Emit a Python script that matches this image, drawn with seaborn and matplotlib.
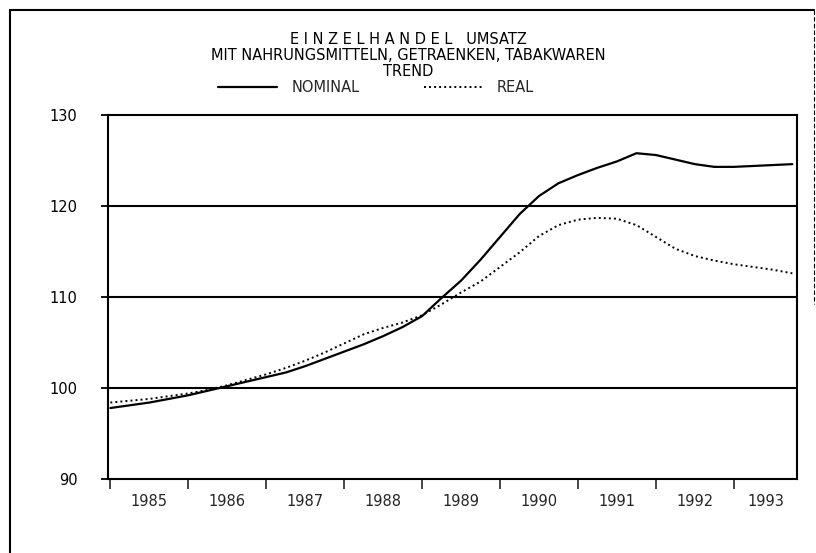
import numpy as np
import pandas as pd
import matplotlib
matplotlib.use("Agg")
import matplotlib.pyplot as plt
import seaborn as sns
from matplotlib.lines import Line2D

# ---- data (quarterly trend values) ----
years = [1985 + 0.25 * k for k in range(36)]
nominal = [97.8, 98.1, 98.4, 98.8, 99.2, 99.7, 100.2, 100.7, 101.2, 101.7,
           102.4, 103.2, 104.0, 104.8, 105.7, 106.7, 107.9, 109.9, 111.8, 114.1,
           116.6, 119.1, 121.1, 122.5, 123.4, 124.2, 124.9, 125.8, 125.6, 125.1,
           124.6, 124.3, 124.3, 124.4, 124.5, 124.6]
real = [98.4, 98.6, 98.8, 99.1, 99.4, 99.8, 100.3, 100.9, 101.5, 102.2,
        103.0, 103.9, 104.9, 105.9, 106.6, 107.2, 108.0, 109.2, 110.5, 111.7,
        113.3, 114.9, 116.7, 117.9, 118.5, 118.7, 118.6, 117.9, 116.6, 115.3,
        114.5, 114.0, 113.6, 113.3, 113.0, 112.6]
year_labels = ["1985", "1986", "1987", "1988", "1989", "1990", "1991", "1992", "1993"]
y_ticks = [90, 100, 110, 120, 130]
title_lines = ["E I N Z E L H A N D E L   UMSATZ",
               "MIT NAHRUNGSMITTELN, GETRAENKEN, TABAKWAREN",
               "TREND"]
series_names = ["NOMINAL", "REAL"]

df = pd.DataFrame({"year": years, "NOMINAL": nominal, "REAL": real})

sns.set_style("white")
plt.rcParams["font.family"] = ["DejaVu Sans"]
FS = 10.5

W, H = 816, 553
fig = plt.figure(figsize=(W / 100, H / 100), dpi=100)
fig.patch.set_facecolor("white")
ax = fig.add_axes([108 / W, (H - 479) / H, 689 / W, 364 / H])

sns.lineplot(data=df, x="year", y="NOMINAL", ax=ax, color="black", lw=1.6,
             label=series_names[0])
sns.lineplot(data=df, x="year", y="REAL", ax=ax, color="black", lw=1.4,
             linestyle=(0, (1, 1.6)), label=series_names[1])

ax.set_xlim(1984.97, 1993.81)
ax.set_ylim(90, 130)

for v in y_ticks[1:-1]:
    ax.axhline(v, color="black", lw=1.5, zorder=1)

ax.set_yticks(y_ticks)
ax.set_yticklabels([str(v) for v in y_ticks])
ax.tick_params(axis="y", which="major", direction="out", length=5, width=1.3,
               pad=17, labelsize=FS, left=True, colors="black")

major_x = [1985 + i for i in range(9)]
ax.set_xticks(major_x)
ax.set_xticklabels([])
ax.tick_params(axis="x", which="major", direction="out", length=7, width=1.2,
               bottom=True)
minor_pos = [1985.5 + i for i in range(8)] + [(1993 + 1993.81) / 2]
ax.set_xticks(minor_pos, minor=True)
ax.set_xticklabels(year_labels, minor=True)
ax.tick_params(axis="x", which="minor", length=0, pad=11, labelsize=FS)

ax.set_xlabel("")
ax.set_ylabel("")
for s in ax.spines.values():
    s.set_visible(True)
    s.set_color("black")
    s.set_linewidth(1.5)

# legend
leg = ax.legend(loc="center", bbox_to_anchor=(376 / W, 1 - 88 / H),
                bbox_transform=fig.transFigure, ncol=2, frameon=False,
                fontsize=FS, handlelength=4.0, handletextpad=1.0,
                columnspacing=4.4)

# titles
for txt, yp in zip(title_lines, [39, 56, 72]):
    fig.text(408 / W, 1 - yp / H, txt, ha="center", va="center",
             fontsize=FS, color="black")

# outer frame of the page
fig.add_artist(Line2D([10 / W, 10 / W], [1 - 10 / H, 0], transform=fig.transFigure,
                      color="black", lw=1.5))
fig.add_artist(Line2D([10 / W, 814 / W], [1 - 10 / H, 1 - 10 / H],
                      transform=fig.transFigure, color="black", lw=1.5))
fig.add_artist(Line2D([814 / W, 814 / W], [1 - 10 / H, 0.45],
                      transform=fig.transFigure, color="black", lw=0.8,
                      linestyle=(0, (4, 2))))

fig.savefig("out.png", dpi=100, facecolor="white")
